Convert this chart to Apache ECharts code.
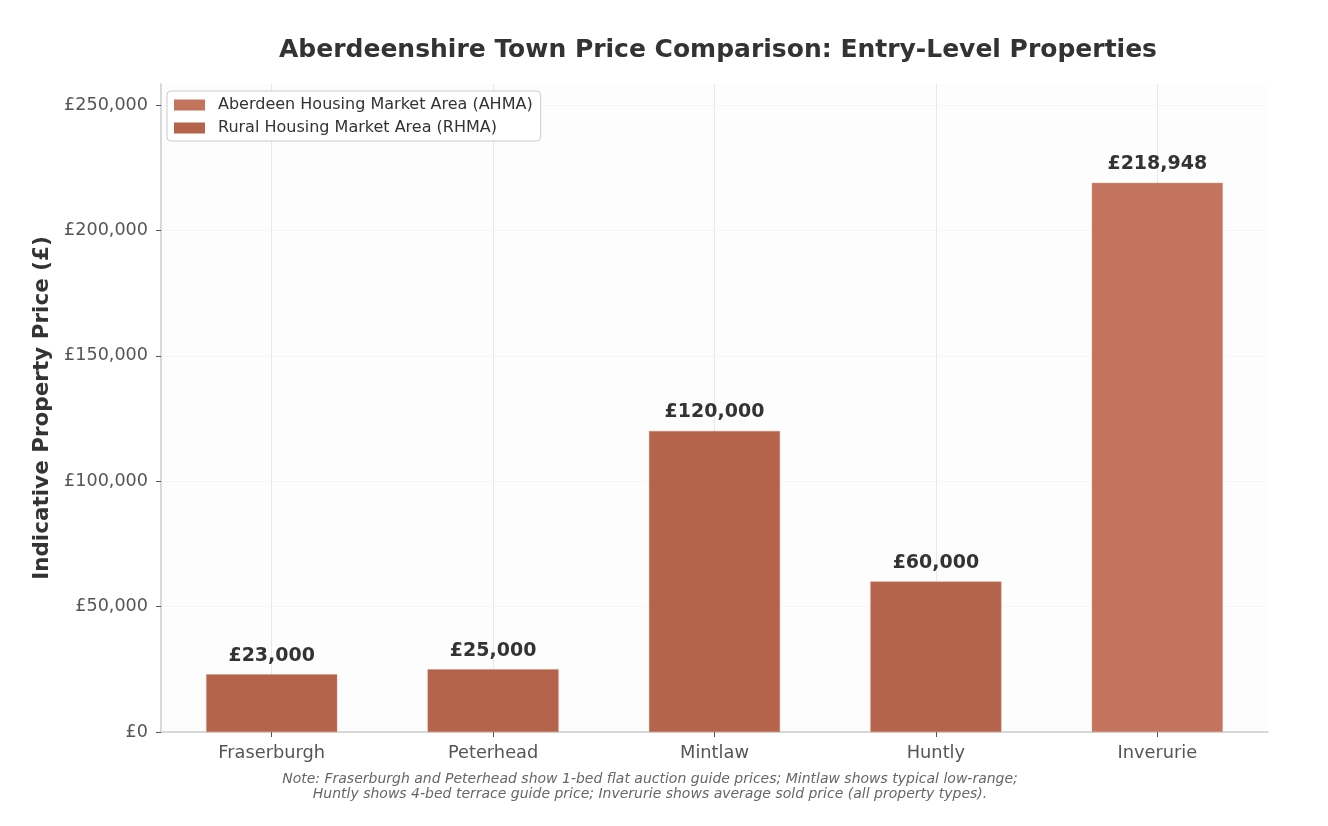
<!DOCTYPE html>
<html>
<head>
<meta charset="utf-8">
<script src="https://cdn.jsdelivr.net/npm/echarts@6/dist/echarts.min.js"></script>
<style>
html,body{margin:0;padding:0;background:#fff;}
#chart{width:1328px;height:826px;}
</style>
</head>
<body>
<div id="chart"></div>
<script>
const categories = ['Fraserburgh', 'Peterhead', 'Mintlaw', 'Huntly', 'Inverurie'];
const ahmaValues = ['-', '-', '-', '-', 218948];
const rhmaValues = [23000, 25000, 120000, 60000, '-'];
const seriesNames = ['Aberdeen Housing Market Area (AHMA)', 'Rural Housing Market Area (RHMA)'];
const yTicks = [0, 50000, 100000, 150000, 200000, 250000];
const categoryIndex = [0, 1, 2, 3, 4];
const yMax = 218948 * 1.18;

function fmt(v) {
  return '£' + String(Math.round(v)).replace(/\B(?=(\d{3})+(?!\d))/g, ',');
}

const FONT = 'DejaVu Sans';
const chart = echarts.init(document.getElementById('chart'), null, {renderer: 'canvas'});

const labelCfg = {
  show: true,
  position: 'top',
  distance: 9,
  formatter: p => fmt(p.value),
  fontFamily: FONT,
  fontWeight: 'bold',
  fontSize: 19,
  color: '#333333'
};

chart.setOption({
  backgroundColor: '#ffffff',
  animation: false,
  title: {
    text: 'Aberdeenshire Town Price Comparison: Entry-Level Properties',
    left: 713,
    textAlign: 'center',
    top: 33,
    textStyle: {fontFamily: FONT, fontWeight: 'bold', fontSize: 25, color: '#333333'}
  },
  legend: {
    orient: 'vertical',
    left: 167,
    top: 91,
    padding: [6, 8, 5, 7],
    icon: 'rect',
    itemWidth: 31,
    itemHeight: 11,
    itemGap: 7,
    itemStyle: {borderWidth: 0},
    borderColor: '#cccccc',
    borderWidth: 1,
    borderRadius: 4,
    backgroundColor: '#ffffff',
    textStyle: {fontFamily: FONT, fontSize: 16, color: '#333333', padding: [0, 0, 0, 8]},
    data: seriesNames
  },
  graphic: [{
    type: 'text',
    x: 650,
    y: 772,
    style: {
      text: 'Note: Fraserburgh and Peterhead show 1-bed flat auction guide prices; Mintlaw shows typical low-range;\nHuntly shows 4-bed terrace guide price; Inverurie shows average sold price (all property types).',
      textAlign: 'center',
      align: 'center',
      fontFamily: FONT,
      fontStyle: 'italic',
      fontSize: 14,
      lineHeight: 15,
      fill: '#666666'
    }
  }],
  grid: {
    left: 161,
    right: 60,
    top: 84,
    bottom: 94,
    show: true,
    backgroundColor: '#fdfdfd',
    borderWidth: 0
  },
  xAxis: [{
    type: 'category',
    data: categories,
    boundaryGap: true,
    axisLine: {show: true, onZero: false, lineStyle: {color: '#cccccc', width: 1.5}},
    axisTick: {show: true, alignWithLabel: true, length: 5, lineStyle: {color: '#555555'}},
    axisLabel: {fontFamily: FONT, fontSize: 17.8, color: '#555555', margin: 12},
    splitLine: {show: false}
  }, {
    type: 'value',
    position: 'bottom',
    min: -0.5,
    max: 4.5,
    axisLine: {show: false, onZero: false},
    axisLabel: {show: false},
    axisTick: {show: false, customValues: categoryIndex},
    splitLine: {show: true, lineStyle: {color: '#e8e8e8', width: 1}}
  }],
  yAxis: {
    type: 'value',
    min: 0,
    max: yMax,
    interval: 50000,
    name: 'Indicative Property Price (£)',
    nameLocation: 'middle',
    nameGap: 108,
    nameTextStyle: {fontFamily: FONT, fontWeight: 'bold', fontSize: 21.5, color: '#333333'},
    axisLine: {show: true, onZero: false, lineStyle: {color: '#cccccc', width: 1.5}},
    axisTick: {show: true, length: 5, lineStyle: {color: '#555555'}, customValues: yTicks},
    axisLabel: {
      fontFamily: FONT, fontSize: 17.6, color: '#555555', margin: 13,
      customValues: yTicks,
      formatter: v => fmt(v)
    },
    splitLine: {show: true, lineStyle: {color: '#f6f6f6', width: 1}}
  },
  series: [
    {
      name: seriesNames[0],
      type: 'bar',
      xAxisIndex: 0,
      data: ahmaValues,
      barWidth: 131,
      barGap: '-100%',
      itemStyle: {color: '#c4735c', borderColor: '#d99a86', borderWidth: 0.4},
      label: labelCfg
    },
    {
      name: seriesNames[1],
      type: 'bar',
      xAxisIndex: 0,
      data: rhmaValues,
      barWidth: 131,
      barGap: '-100%',
      itemStyle: {color: '#b5634a', borderColor: '#cf8c76', borderWidth: 0.4},
      label: labelCfg
    }
  ]
});
</script>
</body>
</html>
